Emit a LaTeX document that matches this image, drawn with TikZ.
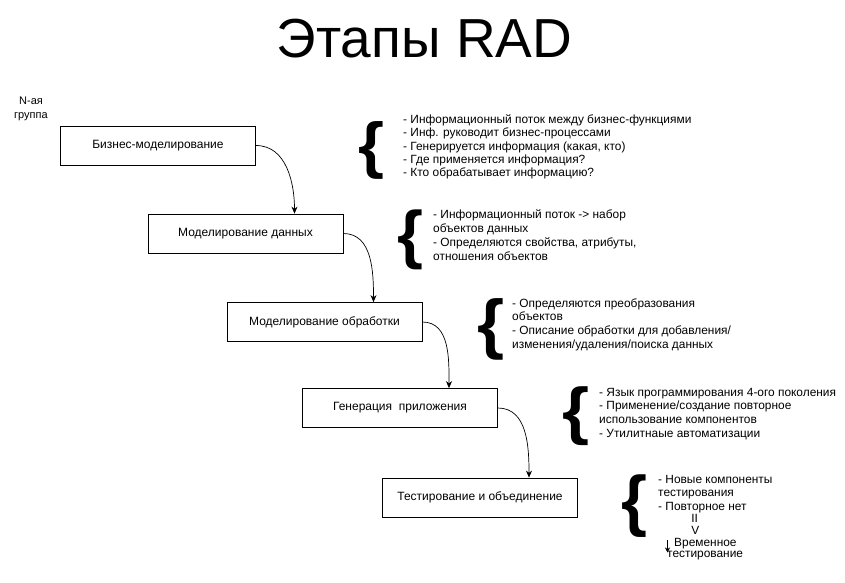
\documentclass[tikz,border=0pt]{standalone}
\usepackage{fontspec}
\setmainfont{Liberation Sans}
\usetikzlibrary{arrows.meta}
\tikzset{
  stage/.style={draw, line width=0.8pt, minimum width=195pt, minimum height=39pt, inner sep=0pt, font=\fontsize{12}{14}\selectfont},
  flow/.style={line width=0.7pt, -{Stealth[length=7pt,width=6pt]}},
  desc/.style={anchor=base west, inner sep=0pt, font=\fontsize{11.9}{13}\selectfont},
  bracesym/.style={inner sep=0pt, font=\fontsize{58}{58}\selectfont\bfseries},
  small/.style={inner sep=0pt, font=\fontsize{11}{13}\selectfont},
  minor/.style={line width=0.8pt, -{Stealth[length=5pt,width=5pt]}}
}
\begin{document}
\begin{tikzpicture}[x=1pt,y=1pt]
\useasboundingbox (0,0) rectangle (845,-582);
% title
\node[anchor=base, inner sep=0pt, font=\fontsize{55}{60}\selectfont] (title) at (424.5,-57.7) {Этапы RAD};
% group label
\node[small, anchor=base] (g1) at (31,-104.5) {N-ая};
\node[small, anchor=base] (g2) at (31,-118.5) {группа};
% stages
\node[stage] (s1) at (158,-145.5) {Бизнес-моделирование};
\node[stage] (s2) at (245.5,-233.5) {Моделирование данных};
\node[stage] (s3) at (324.5,-322) {Моделирование обработки};
\node[stage] (s4) at (400,-408) {Генерация\ \ приложения};
\node[stage] (s5) at (480,-497.5) {Тестирование и объединение};
% connectors
\draw[flow] (s1.east) to[out=0,in=90] ([xshift=49pt]s2.north);
\draw[flow] (s2.east) to[out=0,in=90] ([xshift=49pt]s3.north);
\draw[flow] (s3.east) to[out=0,in=90] ([xshift=49pt]s4.north);
\draw[flow] (s4.east) to[out=0,in=90] ([xshift=49pt]s5.north);
% braces
\node[bracesym] (br1) at (371,-150.5) {\scalebox{1.15}[1.07]{\{}};
\node[bracesym] (br2) at (410,-240) {\scalebox{1.15}[1.11]{\{}};
\node[bracesym] (br3) at (491,-329) {\scalebox{1.2}[1.14]{\{}};
\node[bracesym] (br4) at (576.5,-416.5) {\scalebox{1.2}[1.09]{\{}};
\node[bracesym] (br5) at (634,-506.5) {\scalebox{1.15}[1.16]{\{}};
% descriptions
\node[desc] (d1a) at (403,-123.5) {- Информационный поток между бизнес-функциями};
\node[desc] (d1b) at (403,-136.8) {- Инф. руководит бизнес-процессами};
\node[desc] (d1c) at (403,-150.1) {- Генерируется информация (какая, кто)};
\node[desc] (d1d) at (403,-163.4) {- Где применяется информация?};
\node[desc] (d1e) at (403,-176.7) {- Кто обрабатывает информацию?};
\node[desc] (d2a) at (433,-218.5) {- Информационный поток -> набор};
\node[desc] (d2b) at (433,-232.6) {объектов данных};
\node[desc] (d2c) at (433,-246.7) {- Определяются свойства, атрибуты,};
\node[desc] (d2d) at (433,-260.8) {отношения объектов};
\node[desc] (d3a) at (512,-307) {- Определяются преобразования};
\node[desc] (d3b) at (512,-320.7) {объектов};
\node[desc] (d3c) at (512,-334.4) {- Описание обработки для добавления/};
\node[desc] (d3d) at (512,-348.1) {изменения/удаления/поиска данных};
\node[desc] (d4a) at (599,-396) {- Язык программирования 4-ого поколения};
\node[desc] (d4b) at (599,-409.8) {- Применение/создание повторное};
\node[desc] (d4c) at (599,-423.6) {использование компонентов};
\node[desc] (d4d) at (599,-437.4) {- Утилитнаые автоматизации};
\node[desc] (d5a) at (658,-483.5) {- Новые компоненты};
\node[desc] (d5b) at (658,-496.8) {тестирования};
\node[desc] (d5c) at (658,-510.1) {- Повторное нет};
\node[desc, anchor=base] (d5d) at (694.7,-522) {II};
\node[desc, anchor=base] (d5e) at (695.3,-534) {V};
\node[desc] (d5g) at (674,-546) {Временное};
\node[desc] (d5h) at (667,-557.5) {тестирование};
\coordinate (ar1) at (667.5,-540);
\coordinate (ar2) at (667.5,-552.5);
\draw[minor] (ar1) -- (ar2);
\end{tikzpicture}
\end{document}
